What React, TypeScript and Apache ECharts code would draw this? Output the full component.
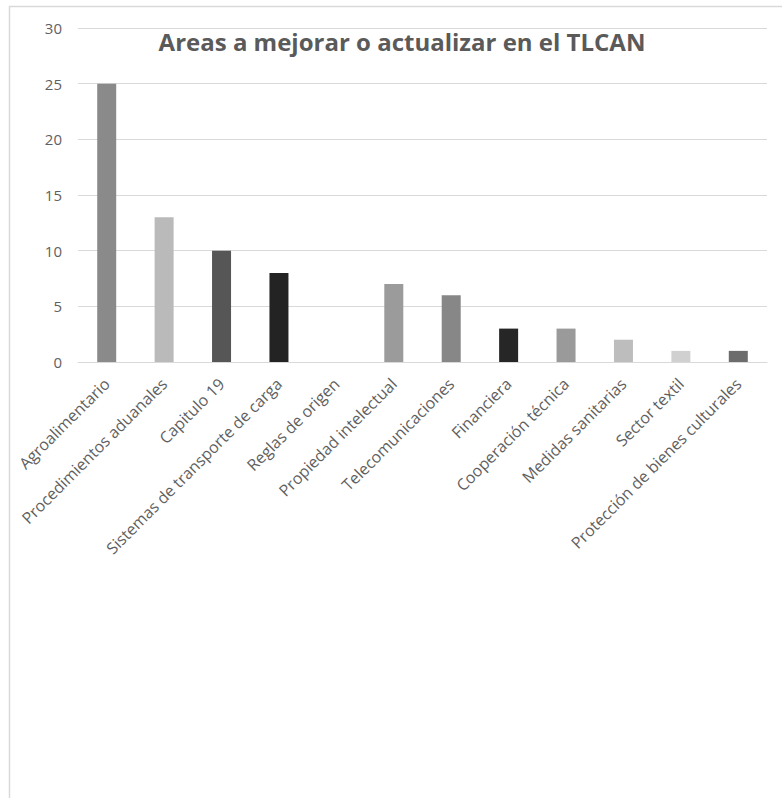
import React, { useEffect, useRef } from "react";
import * as echarts from "echarts";

const categories = [
  "Agroalimentario",
  "Procedimientos aduanales",
  "Capitulo 19",
  "Sistemas de transporte de carga",
  "Reglas de origen",
  "Propiedad intelectual",
  "Telecomunicaciones",
  "Financiera",
  "Cooperación técnica",
  "Medidas sanitarias",
  "Sector textil",
  "Protección de bienes culturales",
];
const values = [25, 13, 10, 8, 0, 7, 6, 3, 3, 2, 1, 1];
const barColors = [
  "#8a8a8a",
  "#bababa",
  "#565656",
  "#232323",
  "#8a8a8a",
  "#9b9b9b",
  "#878787",
  "#262626",
  "#9a9a9a",
  "#bdbdbd",
  "#d0d0d0",
  "#6c6c6c",
];
const yTicks = [0, 5, 10, 15, 20, 25, 30];
const titleText = "Areas a mejorar o actualizar en el TLCAN";

export default function App() {
  const ref = useRef<HTMLDivElement>(null);
  useEffect(() => {
    if (!ref.current) return;
    const chart = echarts.init(ref.current, null, { renderer: "svg" });
    chart.setOption({
      animation: false,
      backgroundColor: "#ffffff",
      textStyle: { fontFamily: "Open Sans" },
      grid: { left: 78, right: 15, top: 28, bottom: 436, containLabel: false },
      xAxis: {
        type: "category",
        data: categories,
        axisLine: { show: true, lineStyle: { color: "#d9d9d9", width: 1 } },
        axisTick: { show: false },
        axisLabel: {
          rotate: 45,
          interval: 0,
          color: "#5f5f5f",
          fontSize: 16,
          fontFamily: "Open Sans",
          margin: 19,
        },
      },
      yAxis: {
        type: "value",
        min: yTicks[0],
        max: yTicks[yTicks.length - 1],
        interval: 5,
        axisLine: { show: false },
        axisTick: { show: false },
        splitLine: { lineStyle: { color: "#d9d9d9", width: 1 } },
        axisLabel: {
          color: "#5f5f5f",
          fontSize: 15,
          fontFamily: "Open Sans",
          margin: 16,
        },
      },
      series: [
        {
          type: "bar",
          data: values.map((v, i) => ({ value: v, itemStyle: { color: barColors[i] } })),
          barWidth: 19,
        },
      ],
      graphic: [
        {
          type: "rect",
          shape: { x: 9.5, y: 6.5, width: 900, height: 900 },
          style: { fill: "none", stroke: "#d9d9d9", lineWidth: 1.5 },
          silent: true,
        },
        {
          type: "text",
          x: 402,
          y: 41,
          style: {
            text: titleText,
            fill: "#5a5a5a",
            font: "bold 24px 'Open Sans'",
            textAlign: "center",
            textVerticalAlign: "middle",
          },
        },
      ],
    });
    return () => chart.dispose();
  }, []);
  return (
    <div
      ref={ref}
      style={{ position: "absolute", left: 0, top: 0, width: 782, height: 798 }}
    />
  );
}
